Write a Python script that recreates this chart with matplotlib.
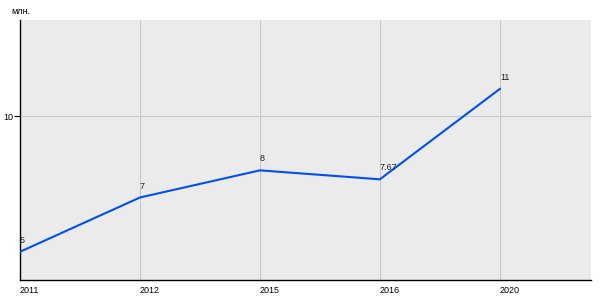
import matplotlib
matplotlib.use('Agg')
import matplotlib.pyplot as plt

plt.rcParams['font.family'] = ['Liberation Sans', 'DejaVu Sans']

years = ['2011', '2012', '2015', '2016', '2020']
values = [5, 7, 8, 7.67, 11]
value_labels = ['5', '7', '8', '7.67', '11']

fig = plt.figure(figsize=(6, 3), dpi=100)
ax = fig.add_axes([20 / 600, 20 / 300, 571 / 600, 260 / 300])
ax.set_facecolor('#ebebeb')

xs = list(range(len(years)))
ax.plot(xs, values, color='#0050f0', lw=1.5, solid_joinstyle='round', zorder=3)
for x, v, lab in zip(xs, values, value_labels):
    ax.annotate(lab, (x, v), xytext=(0, 5), textcoords='offset points',
                ha='left', va='bottom', fontsize=6.5, color='#222222')

ax.set_xlim(0, 4.76)
ax.set_ylim(3.96, 13.54)
ax.set_xticks(xs)
ax.set_xticklabels(years, ha='left')
ax.set_yticks([10])
ax.grid(True, color='#c8c8c8', lw=0.8)
ax.set_axisbelow(True)

for s in ['top', 'right']:
    ax.spines[s].set_visible(False)
for s in ['left', 'bottom']:
    ax.spines[s].set_color('black')
    ax.spines[s].set_linewidth(1)

ax.tick_params(axis='x', length=0, pad=4, labelsize=6.5)
ax.tick_params(axis='y', length=4, width=0.8, pad=1, labelsize=6.5)

fig.text(11 / 600, 1 - 12 / 300, 'млн.', fontsize=6.5, va='center', ha='left')

fig.savefig('out.png', dpi=100)
